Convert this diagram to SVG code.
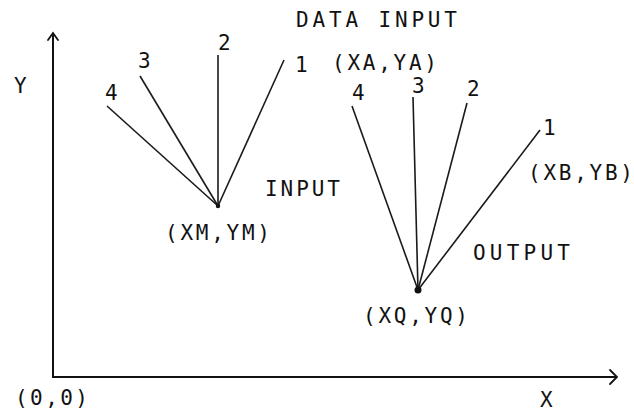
<svg xmlns="http://www.w3.org/2000/svg" width="634" height="414" viewBox="0 0 634 414">
  <style>
    text { font-family: "DejaVu Sans Mono", "Liberation Mono", monospace; font-size: 21px; fill: #111; }
    .axis { stroke: #111; stroke-width: 2; fill: none; }
    .ray { stroke: #1a1a1a; stroke-width: 1.6; fill: none; }
    .head { stroke: #111; stroke-width: 1.8; fill: none; stroke-linecap: round; }
  </style>
  <rect width="634" height="414" fill="#ffffff"/>

  <!-- coordinate axes -->
  <g id="axes">
    <line class="axis" x1="53" y1="35" x2="53" y2="377"/>
    <line class="axis" x1="52" y1="377" x2="616" y2="377"/>
    <polyline class="head" points="48,40 53,33 58,40"/>
    <polyline class="head" points="610,370 617,377 610,384"/>
    <text x="14" y="93" textLength="13">Y</text>
    <text x="540" y="407" textLength="15">X</text>
    <text x="15" y="405" textLength="73">(0,0)</text>
  </g>

  <!-- connectors: rays of both fans -->
  <g id="connectors">
    <line class="ray" x1="107" y1="106" x2="218" y2="206"/>
    <line class="ray" x1="140" y1="76" x2="218" y2="206"/>
    <line class="ray" x1="218" y1="55" x2="218" y2="206"/>
    <line class="ray" x1="284" y1="60" x2="218" y2="206"/>
    <line class="ray" x1="352" y1="106" x2="418" y2="290"/>
    <line class="ray" x1="413" y1="97" x2="418" y2="290"/>
    <line class="ray" x1="467" y1="103" x2="418" y2="290"/>
    <line class="ray" x1="540" y1="130" x2="418" y2="290"/>
  </g>

  <!-- input point M -->
  <g id="node-m">
    <circle cx="218" cy="206" r="2.2" fill="#111"/>
    <text x="165" y="240" textLength="105">(XM,YM)</text>
    <text x="265" y="196" textLength="75">INPUT</text>
    <text x="105" y="100" textLength="13">4</text>
    <text x="138" y="68" textLength="14">3</text>
    <text x="218" y="50" textLength="14">2</text>
    <text x="295" y="72" textLength="12">1</text>
  </g>

  <!-- data input point A -->
  <g id="node-a">
    <text x="296" y="27" textLength="161">DATA INPUT</text>
    <text x="332" y="70" textLength="105">(XA,YA)</text>
  </g>

  <!-- data input point B -->
  <g id="node-b">
    <text x="528" y="180" textLength="105">(XB,YB)</text>
  </g>

  <!-- output point Q -->
  <g id="node-q">
    <circle cx="418" cy="290" r="3.5" fill="#111"/>
    <text x="363" y="323" textLength="105">(XQ,YQ)</text>
    <text x="473" y="260" textLength="97">OUTPUT</text>
    <text x="352" y="100" textLength="13">4</text>
    <text x="412" y="93" textLength="15">3</text>
    <text x="467" y="96" textLength="16">2</text>
    <text x="543" y="135" textLength="12">1</text>
  </g>
</svg>
